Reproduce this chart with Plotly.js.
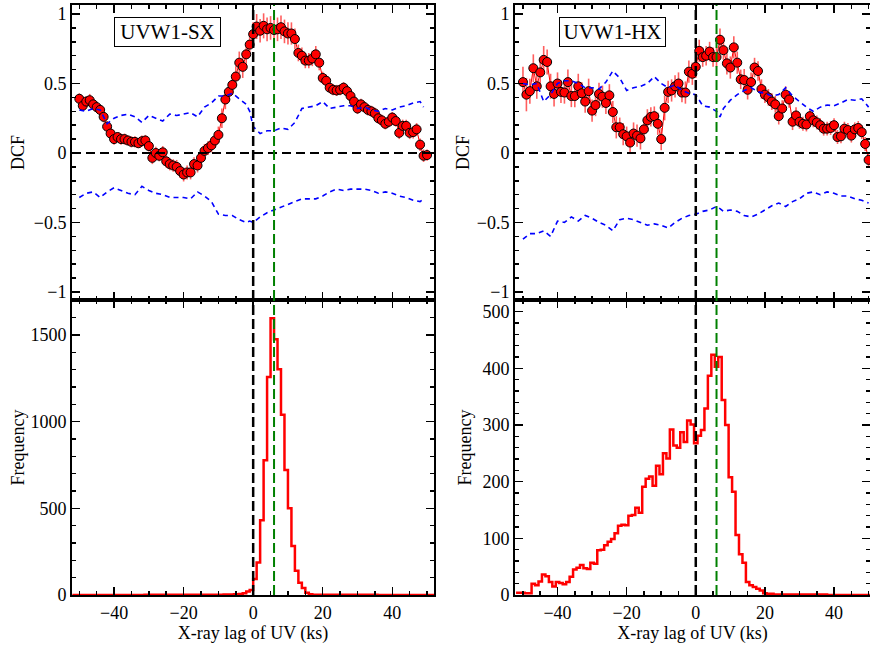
<!DOCTYPE html>
<html>
<head>
<meta charset="utf-8">
<script src="https://cdn.plot.ly/plotly-3.0.1.min.js"></script>
<style>html,body{margin:0;padding:0;background:#fff;}#plot{width:870px;height:649px;}</style>
</head>
<body>
<div id="plot"></div>
<script>
// ---------- DATA ----------
const dcfLag = [-50,-49,-48,-47,-46,-45,-44,-43,-42,-41,-40,-39,-38,-37,-36,-35,-34,-33,-32,-31,
  -30,-29,-28,-27,-26,-25,-24,-23,-22,-21,-20,-19,-18,-17,-16,-15,-14,-13,-12,-11,
  -10,-9,-8,-7,-6,-5,-4,-3,-2,-1,0,1,2,3,4,5,6,7,8,9,10,11,12,13,14,15,16,17,18,19,
  20,21,22,23,24,25,26,27,28,29,30,31,32,33,34,35,36,37,38,39,40,41,42,43,44,45,46,47,48,49,50];

const sxDCF = [0.39,0.34,0.37,0.38,0.35,0.33,0.31,0.26,0.19,0.14,
  0.10,0.115,0.10,0.10,0.09,0.08,0.08,0.07,0.085,0.09,
  0.05,-0.035,0.0,-0.02,0.005,-0.06,-0.08,-0.09,-0.10,-0.13,
  -0.155,-0.14,-0.14,-0.08,-0.09,-0.035,0.015,0.035,0.055,0.09,
  0.13,0.25,0.385,0.44,0.49,0.55,0.65,0.62,0.71,0.78,
  0.855,0.91,0.88,0.915,0.89,0.90,0.885,0.89,0.905,0.875,
  0.86,0.86,0.82,0.72,0.70,0.665,0.665,0.68,0.71,0.65,
  0.54,0.52,0.47,0.455,0.45,0.455,0.47,0.445,0.41,0.37,
  0.32,0.35,0.33,0.31,0.30,0.285,0.25,0.235,0.21,0.225,
  0.255,0.23,0.145,0.195,0.195,0.145,0.15,0.17,0.06,-0.02,
  -0.015];
const sxErr = [0.04,0.035,0.04,0.045,0.04,0.04,0.035,0.04,0.04,0.04,
  0.04,0.035,0.04,0.04,0.035,0.04,0.04,0.035,0.04,0.04,
  0.04,0.045,0.045,0.04,0.045,0.045,0.045,0.045,0.05,0.05,
  0.05,0.05,0.05,0.05,0.05,0.045,0.05,0.05,0.05,0.055,
  0.06,0.07,0.07,0.07,0.07,0.075,0.08,0.08,0.08,0.08,
  0.085,0.09,0.085,0.09,0.085,0.085,0.09,0.085,0.085,0.085,
  0.08,0.08,0.075,0.06,0.06,0.055,0.055,0.055,0.06,0.055,
  0.045,0.045,0.04,0.04,0.04,0.04,0.04,0.04,0.04,0.04,
  0.04,0.04,0.04,0.04,0.04,0.04,0.04,0.04,0.04,0.04,
  0.04,0.04,0.045,0.045,0.045,0.045,0.045,0.045,0.045,0.045,
  0.04];

const hxDCF = [0.51,0.42,0.445,0.61,0.48,0.58,0.67,0.655,0.48,0.425,
  0.50,0.44,0.435,0.51,0.41,0.41,0.48,0.43,0.37,0.445,
  0.305,0.345,0.425,0.405,0.36,0.415,0.295,0.185,0.185,0.135,
  0.12,0.075,0.14,0.125,0.105,0.17,0.235,0.26,0.265,0.21,
  0.10,0.325,0.44,0.45,0.48,0.50,0.435,0.435,0.585,0.57,
  0.62,0.735,0.69,0.70,0.73,0.69,0.69,0.815,0.74,0.645,
  0.615,0.76,0.65,0.53,0.525,0.455,0.51,0.615,0.59,0.46,
  0.42,0.40,0.37,0.35,0.265,0.32,0.42,0.385,0.225,0.27,
  0.225,0.21,0.205,0.265,0.235,0.22,0.20,0.175,0.175,0.18,
  0.20,0.115,0.12,0.175,0.165,0.125,0.17,0.18,0.15,0.065,
  -0.05];
const hxErr = [0.11,0.12,0.09,0.1,0.09,0.09,0.1,0.09,0.09,0.09,
  0.08,0.08,0.08,0.09,0.08,0.08,0.09,0.08,0.08,0.09,
  0.08,0.08,0.08,0.08,0.08,0.08,0.08,0.08,0.07,0.08,
  0.07,0.08,0.08,0.08,0.08,0.08,0.08,0.07,0.07,0.08,
  0.08,0.09,0.08,0.08,0.08,0.08,0.07,0.08,0.08,0.08,
  0.08,0.08,0.07,0.07,0.07,0.07,0.07,0.08,0.07,0.08,
  0.08,0.08,0.08,0.07,0.08,0.07,0.07,0.07,0.07,0.07,
  0.06,0.06,0.06,0.06,0.06,0.06,0.06,0.06,0.06,0.06,
  0.05,0.05,0.05,0.05,0.05,0.05,0.05,0.05,0.05,0.05,
  0.05,0.05,0.05,0.05,0.05,0.05,0.05,0.05,0.05,0.05,
  0.05];

// significance levels (blue dashed)
const sxLevelLag = [-50,-48,-46,-44,-42,-40,-38,-36,-34,-32,-30,-28,-26,-24,-22,-20,-18,-16,-14,-12,-10,-8,-6,-4,-2,-1,
  0,2,4,6,8,10,12,14,16,18,20,22,24,26,28,30,32,34,36,38,40,42,44,46,48,49];
const sxUpper = [0.31,0.30,0.32,0.31,0.21,0.25,0.27,0.28,0.26,0.22,0.27,0.25,0.23,0.28,0.27,0.28,0.29,0.26,0.33,0.36,
  0.41,0.41,0.43,0.39,0.35,0.30,0.19,0.14,0.16,0.16,0.18,0.17,0.22,0.32,0.33,0.34,0.37,0.32,0.33,0.34,
  0.34,0.32,0.33,0.31,0.30,0.32,0.31,0.33,0.34,0.36,0.37,0.33];
const sxLower = [-0.32,-0.29,-0.28,-0.32,-0.28,-0.25,-0.27,-0.29,-0.30,-0.24,-0.27,-0.29,-0.30,-0.32,-0.32,-0.32,-0.33,-0.28,-0.31,-0.35,
  -0.44,-0.45,-0.45,-0.48,-0.50,-0.49,-0.50,-0.46,-0.43,-0.41,-0.39,-0.365,-0.35,-0.33,-0.33,-0.33,-0.31,-0.28,-0.26,-0.27,
  -0.26,-0.26,-0.26,-0.27,-0.29,-0.28,-0.29,-0.31,-0.32,-0.34,-0.35,-0.33];

const hxLevelLag = [-50,-48,-46,-44,-42,-40,-38,-36,-34,-32,-30,-28,-26,-24,-22,-20,-18,-16,-14,-12,-10,-8,-6,-4,-2,0,
  2,4,6,7,8,10,12,14,16,18,20,22,24,26,28,30,32,34,36,38,40,42,44,46,48,50];
const hxUpper = [0.50,0.49,0.50,0.37,0.42,0.50,0.52,0.52,0.50,0.47,0.47,0.46,0.51,0.59,0.54,0.45,0.47,0.48,0.50,0.55,
  0.50,0.47,0.49,0.45,0.43,0.42,0.34,0.33,0.30,0.26,0.32,0.38,0.42,0.45,0.47,0.44,0.43,0.41,0.42,0.47,
  0.41,0.37,0.33,0.30,0.33,0.345,0.34,0.36,0.385,0.38,0.39,0.33];
const hxLower = [-0.62,-0.58,-0.58,-0.56,-0.60,-0.49,-0.50,-0.46,-0.49,-0.45,-0.47,-0.50,-0.52,-0.56,-0.48,-0.47,-0.48,-0.50,-0.52,-0.51,
  -0.52,-0.54,-0.50,-0.47,-0.45,-0.44,-0.42,-0.41,-0.385,-0.40,-0.42,-0.41,-0.42,-0.45,-0.46,-0.44,-0.41,-0.38,-0.36,-0.385,
  -0.35,-0.33,-0.29,-0.28,-0.30,-0.28,-0.29,-0.31,-0.31,-0.33,-0.34,-0.36];

// lag distributions (histogram bin centres and counts)
const sxHistLag = [-52,-10.5,-6.5,-4.5,-3.5,-2.5,-1.5,-0.5,0.5,1.5,2.5,3.5,4.5,5.5,6.5,7.5,8.5,9.5,10.5,11.5,
  12.5,13.5,14.5,15.5,16.5,17.5,18.5,19.5,52];
const sxHistCount = [0,2,3,4,6,10,20,29,93,187,431,777,1258,1596,1475,1302,1040,721,500,283,
  140,71,40,13,4,2,1,1,0];

const hxHistLag = [-52,-51,-50,-49,-48,-47,-46,-45,-44,-43,-42,-41,-40,-39,-38,-37,-36,-35,-34,-33,
  -32,-31,-30,-29,-28,-27,-26,-25,-24,-23,-22,-21,-20,-19,-18,-17,-16,-15,-14,-13,
  -12,-11,-10,-9,-8,-7,-6,-5,-4,-3,-2,-1,0,1,2,3,4,5,6,7,8,9,10,11,12,13,14,15,16,17,
  18,19,20,21,22,23,24,52];
const hxHistCount = [4,4,4,3,3,20,17,24,36,33,23,15,23,21,19,23,32,45,48,53,
  47,46,57,55,79,80,88,94,99,109,122,124,123,140,141,154,145,191,205,209,
  193,228,213,250,241,292,264,260,287,270,308,301,268,281,291,329,387,424,403,420,
  344,300,208,182,106,72,57,23,17,14,11,8,3,2,2,1,1,0];

const refLags = [0, 6];            // zero lag and measured lag
const refColors = ['black', 'green'];
const panelLabels = ['UVW1-SX', 'UVW1-HX'];

// ---------- STYLE ----------
const FONT = 'Liberation Serif, Times New Roman, serif';
function dcfTrace(x, y, err, xa, ya) {
  return {x: x, y: y, xaxis: xa, yaxis: ya, type: 'scatter', mode: 'lines+markers',
    line: {color: 'red', width: 1},
    marker: {color: 'red', size: 9, line: {color: 'black', width: 1}},
    error_y: {type: 'data', array: err, visible: true, color: 'rgba(255,40,40,0.75)', thickness: 1.6, width: 0},
    hoverinfo: 'x+y', showlegend: false};
}
function levelTrace(x, y, xa, ya) {
  return {x: x, y: y, xaxis: xa, yaxis: ya, type: 'scatter', mode: 'lines',
    line: {color: '#0000ff', width: 1.6, dash: '5px,4px'}, showlegend: false, hoverinfo: 'skip'};
}
function histTrace(x, y, xa, ya) {
  return {x: x, y: y, xaxis: xa, yaxis: ya, type: 'scatter', mode: 'lines',
    line: {color: 'red', width: 2.5, shape: 'hvh'}, showlegend: false};
}

const data = [
  dcfTrace(dcfLag, sxDCF, sxErr, 'x', 'y'),
  levelTrace(sxLevelLag, sxUpper, 'x', 'y'),
  levelTrace(sxLevelLag, sxLower, 'x', 'y'),
  histTrace(sxHistLag, sxHistCount, 'x2', 'y2'),
  dcfTrace(dcfLag, hxDCF, hxErr, 'x3', 'y3'),
  levelTrace(hxLevelLag, hxUpper, 'x3', 'y3'),
  levelTrace(hxLevelLag, hxLower, 'x3', 'y3'),
  histTrace(hxHistLag, hxHistCount, 'x4', 'y4')
];

function axis(extra) {
  const base = {showline: true, linewidth: 2, linecolor: 'black', mirror: 'ticks',
    ticks: 'inside', ticklen: 8, tickwidth: 1.5, tickcolor: 'black',
    showgrid: false, zeroline: false, automargin: false,
    tickfont: {family: FONT, size: 18, color: 'black'}};
  return Object.assign(base, extra);
}
const minorX = {ticks: 'inside', ticklen: 4, tickwidth: 1.5, tickcolor: 'black', dtick: 5, showgrid: false};
const W = 870, H = 649;
const xL = [72 / W, 434 / W], xR = [515 / W, 1.0];
const yTop = [1 - 300 / H, 1 - 5 / H], yBot = [1 - 595 / H, 1 - 300 / H];
const titleFont = {family: FONT, size: 18, color: 'black'};
const xTitle = {text: 'X-ray lag of UV (ks)', font: titleFont, standoff: 4};

const layout = {
  width: W, height: H,
  margin: {l: 0, r: 0, t: 0, b: 0, pad: 0},
  paper_bgcolor: 'white', plot_bgcolor: 'white',
  font: {family: FONT, color: 'black'},
  showlegend: false,
  xaxis: axis({domain: xL, anchor: 'y', range: [-52.1, 52.0], dtick: 20, tick0: 0, showticklabels: false, minor: minorX}),
  yaxis: axis({domain: yTop, anchor: 'x', range: [-1.058, 1.065], dtick: 0.5, tick0: 0,
    minor: {ticks: 'inside', ticklen: 4, tickwidth: 1.5, tickcolor: 'black', dtick: 0.1, showgrid: false},
    title: {text: 'DCF', font: titleFont, standoff: 4}}),
  xaxis2: axis({domain: xL, anchor: 'y2', range: [-52.1, 52.0], dtick: 20, tick0: 0, minor: minorX, title: xTitle}),
  yaxis2: axis({domain: yBot, anchor: 'x2', range: [0, 1702], dtick: 500, tick0: 0,
    minor: {ticks: 'inside', ticklen: 4, tickwidth: 1.5, tickcolor: 'black', dtick: 100, showgrid: false},
    title: {text: 'Frequency', font: titleFont, standoff: 1}}),
  xaxis3: axis({domain: xR, anchor: 'y3', range: [-52.3, 50.4], dtick: 20, tick0: 0, showticklabels: false, minor: minorX}),
  yaxis3: axis({domain: yTop, anchor: 'x3', range: [-1.058, 1.065], dtick: 0.5, tick0: 0,
    minor: {ticks: 'inside', ticklen: 4, tickwidth: 1.5, tickcolor: 'black', dtick: 0.1, showgrid: false},
    title: {text: 'DCF', font: titleFont, standoff: 2}}),
  xaxis4: axis({domain: xR, anchor: 'y4', range: [-52.3, 50.4], dtick: 20, tick0: 0, minor: minorX, title: xTitle}),
  yaxis4: axis({domain: yBot, anchor: 'x4', range: [0, 520.6], dtick: 100, tick0: 0,
    minor: {ticks: 'inside', ticklen: 4, tickwidth: 1.5, tickcolor: 'black', dtick: 20, showgrid: false},
    title: {text: 'Frequency', font: titleFont, standoff: 6}}),
  shapes: [],
  annotations: []
};

// horizontal zero lines in the DCF panels
[['x', 'y'], ['x3', 'y3']].forEach(function (p) {
  layout.shapes.push({type: 'line', xref: p[0] + ' domain', yref: p[1], x0: 0, x1: 1, y0: 0, y1: 0,
    line: {color: 'black', width: 2, dash: '9px,5px'}});
});
// vertical reference lags in all panels
[['x', 'y'], ['x2', 'y2'], ['x3', 'y3'], ['x4', 'y4']].forEach(function (p) {
  refLags.forEach(function (lag, i) {
    layout.shapes.push({type: 'line', xref: p[0], yref: p[1] + ' domain', x0: lag, x1: lag, y0: 0, y1: 1,
      line: {color: refColors[i], width: i === 0 ? 2.5 : 2, dash: '10px,4px'}});
  });
});
// panel labels
[[167.5 / W, 'x'], [612 / W, 'x3']].forEach(function (p, i) {
  layout.annotations.push({text: panelLabels[i], xref: 'paper', yref: 'paper', x: p[0], y: 1 - 31.7 / H,
    xanchor: 'center', yanchor: 'middle', showarrow: false, font: {family: FONT, size: 21, color: 'black'},
    bordercolor: 'black', borderwidth: 1, borderpad: 1, bgcolor: 'white', width: 103, height: 26});
});

Plotly.newPlot('plot', data, layout, {displayModeBar: false, staticPlot: true});
</script>
</body>
</html>
